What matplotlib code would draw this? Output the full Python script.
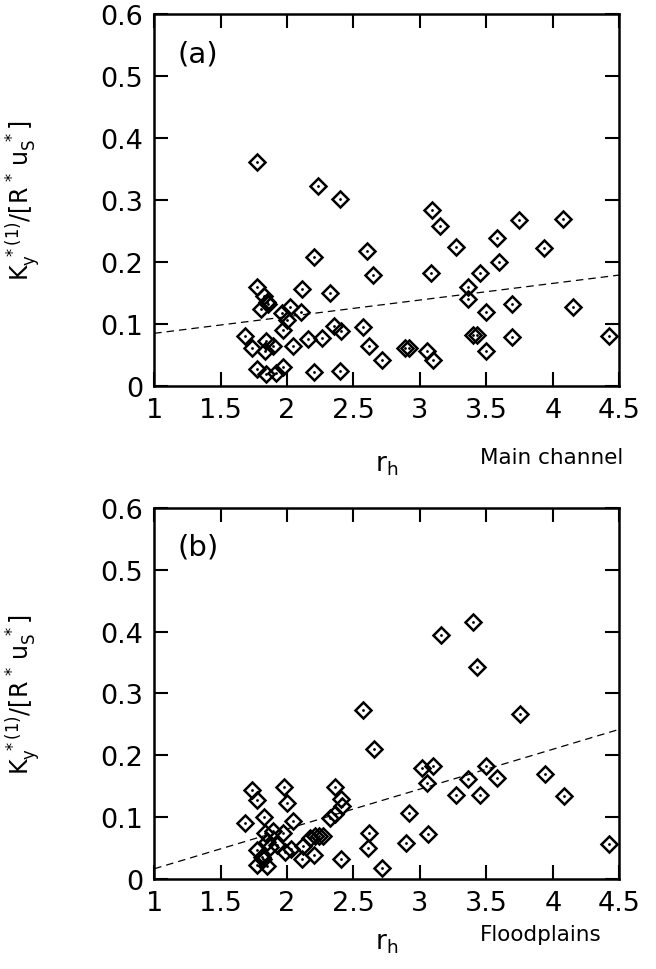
import matplotlib
matplotlib.use('Agg')
import matplotlib.pyplot as plt
import numpy as np

# Main channel (a)
rh_main = [1.773, 2.232, 2.402, 2.202, 2.603, 2.650, 1.773, 1.823, 1.860, 1.850,
           1.803, 2.114, 2.322, 2.023, 1.960, 2.104, 1.998, 1.973, 1.685, 1.735,
           1.840, 1.835, 1.893, 2.044, 2.161, 2.264, 2.357, 2.405, 2.570, 2.613,
           2.713, 2.889, 2.921, 1.773, 1.838, 1.918, 1.973, 2.202, 2.402, 3.090,
           3.152, 3.270, 3.749, 4.080, 3.580, 3.936, 3.598, 3.084, 3.450, 3.360,
           3.360, 3.500, 3.690, 4.155, 3.400, 3.430, 3.690, 3.500, 4.420, 3.050,
           3.100]
k_main = [0.361, 0.322, 0.301, 0.2085, 0.217, 0.179, 0.160, 0.146, 0.132, 0.135,
          0.125, 0.156, 0.150, 0.127, 0.118, 0.119, 0.1065, 0.091, 0.081, 0.061,
          0.072, 0.057, 0.065, 0.065, 0.076, 0.077, 0.097, 0.088, 0.096, 0.0645,
          0.0425, 0.062, 0.061, 0.027, 0.019, 0.021, 0.031, 0.022, 0.024, 0.284,
          0.2575, 0.225, 0.267, 0.270, 0.238, 0.223, 0.1995, 0.182, 0.183, 0.160,
          0.140, 0.119, 0.133, 0.128, 0.083, 0.083, 0.0785, 0.057, 0.081, 0.056,
          0.042]
fit_main = [0.085, 0.179]   # dashed fit at r_h = 1 and 4.5

# Floodplains (b)
rh_flood = [2.575, 2.653, 1.735, 1.777, 1.976, 1.996, 2.362, 2.405, 2.412, 2.360,
            2.320, 1.685, 1.828, 2.046, 2.921, 3.014, 3.050, 3.064, 2.618, 2.607,
            2.894, 2.713, 2.405, 1.835, 1.898, 1.968, 1.848, 1.873, 1.923, 1.777,
            1.810, 1.777, 1.848, 1.818, 1.986, 2.029, 2.111, 2.119, 2.169, 2.211,
            2.244, 2.274, 2.206, 3.157, 3.403, 3.433, 3.754, 3.100, 3.500, 3.365,
            3.583, 3.272, 3.453, 3.942, 4.085, 4.424]
k_flood = [0.273, 0.211, 0.144, 0.128, 0.1495, 0.1226, 0.1495, 0.129, 0.118, 0.105,
           0.098, 0.0898, 0.0995, 0.094, 0.1075, 0.180, 0.156, 0.0726, 0.0737, 0.050,
           0.058, 0.0177, 0.032, 0.074, 0.078, 0.075, 0.059, 0.051, 0.055, 0.047,
           0.035, 0.023, 0.0205, 0.032, 0.044, 0.048, 0.032, 0.054, 0.067, 0.070,
           0.069, 0.070, 0.0387, 0.395, 0.416, 0.342, 0.266, 0.183, 0.183, 0.161,
           0.163, 0.1365, 0.1365, 0.169, 0.134, 0.056]
fit_flood = [0.0165, 0.242]

fit_x = [1.0, 4.5]
xticks = [1, 1.5, 2, 2.5, 3, 3.5, 4, 4.5]
xtick_labels = ['1', '1.5', '2', '2.5', '3', '3.5', '4', '4.5']
yticks = [0, 0.1, 0.2, 0.3, 0.4, 0.5, 0.6]
ytick_labels = ['0', '0.1', '0.2', '0.3', '0.4', '0.5', '0.6']

plt.rcParams['font.family'] = ['DejaVu Sans']
plt.rcParams['mathtext.fontset'] = 'dejavusans'

fig = plt.figure(figsize=(6.56, 9.70), dpi=100)
ax_a = fig.add_axes([0.235, 0.601, 0.709, 0.3835])
ax_b = fig.add_axes([0.235, 0.0928, 0.709, 0.3825])

ylabel = r'$\mathregular{K_y^{\ *(1)}/[R^{\,*}\,u_S^{\ *}]}$'

panels = [
    (ax_a, rh_main, k_main, fit_main, '(a)', 'Main channel', -0.175, -0.19),
    (ax_b, rh_flood, k_flood, fit_flood, '(b)', 'Floodplains', -0.135, -0.148),
]

for ax, xs, ys, fit, tag, name, xl_y, name_y in panels:
    ax.plot(fit_x, fit, color='black', lw=0.9, ls=(0, (6, 4)), zorder=1)
    ax.plot(xs, ys, 'D', ms=8.5, mfc='none', mec='black', mew=1.8, zorder=2)
    ax.plot(xs, ys, '.', ms=2.0, color='black', zorder=3)

    ax.set_xlim(1, 4.5)
    ax.set_ylim(0, 0.6)
    ax.set_xticks(xticks)
    ax.set_xticklabels(xtick_labels)
    ax.set_yticks(yticks)
    ax.set_yticklabels(ytick_labels)
    ax.tick_params(direction='in', length=10, width=1.5, labelsize=19.5,
                   top=True, right=True, pad=8)
    for s in ax.spines.values():
        s.set_linewidth(1.8)

    ax.set_xlabel(r'$\mathregular{r_h}$', fontsize=19)
    ax.xaxis.set_label_coords(0.5, xl_y)
    ax.set_ylabel(ylabel, fontsize=17)
    ax.yaxis.set_label_coords(-0.238, 0.5)

    ax.text(0.05, 0.895, tag, transform=ax.transAxes, fontsize=21,
            ha='left', va='center')
    ax.text(0.70, name_y, name, transform=ax.transAxes, fontsize=15.5,
            ha='left', va='center')

fig.savefig('out.png', dpi=100)
